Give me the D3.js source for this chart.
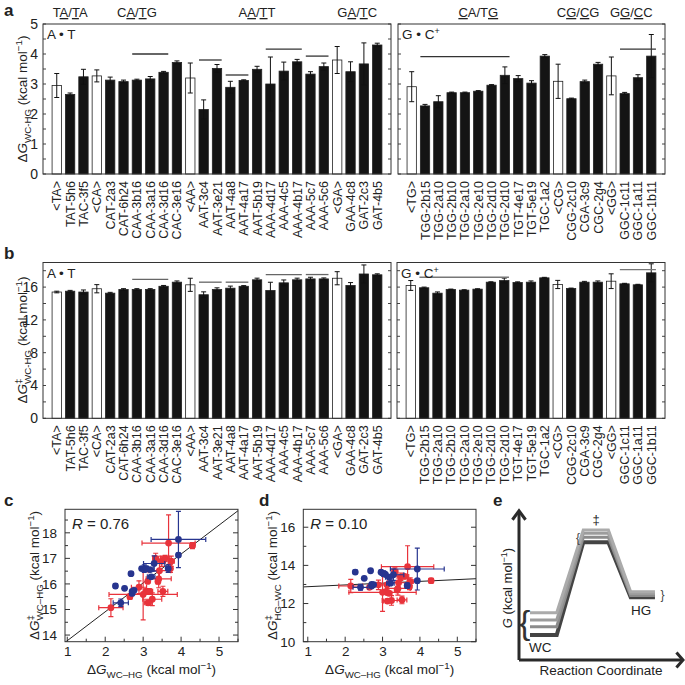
<!DOCTYPE html>
<html>
<head>
<meta charset="utf-8">
<script src="https://cdn.jsdelivr.net/npm/d3@7"></script>
<style>
body { margin: 0; background: #fff; }
text { font-family: "Liberation Sans", Arial, sans-serif; fill: #222; }
</style>
</head>
<body>
<div id="chart"></div>
<script>
// ---- data ----
var labelsAT = ["<TA>","TAT-5h6","TAC-3f5","<CA>","CAT-2a3","CAT-6h24","CAA-3b16","CAA-3a16","CAA-3d16","CAC-3e16",
    "<AA>","AAT-3c4","AAT-3e21","AAT-4a8","AAT-4a17","AAT-5b19","AAA-4d17","AAA-4c5","AAA-4b17","AAA-5c7","AAA-5c6",
    "<GA>","GAA-4c8","GAT-2c3","GAT-4b5"];
var labelsGC = ["<TG>","TGG-2b15","TGG-2a10","TGG-2b10","TGG-2a10","TGG-2e10","TGG-2d10","TGG-2d10","TGT-4e17","TGT-5e19",
    "TGC-1a2","<CG>","CGG-2c10","CGA-3c9","CGC-2g4","<GG>","GGC-1c11","GGC-1a11","GGC-1b11"];

// dG WC-HG (panel a)
var dgAT    = [2.95,2.65,3.24,3.27,3.13,3.08,3.13,3.17,3.39,3.72,3.2,2.15,3.52,2.89,3.12,3.49,3.0,3.43,3.74,3.33,3.58,3.8,3.41,3.67,4.3];
var dgErrAT = [0.4,0.05,0.25,0.2,0.1,0.05,0.03,0.08,0.03,0.05,0.5,0.32,0.13,0.2,0.02,0.1,0.9,0.3,0.08,0.08,0.12,0.45,0.33,0.7,0.06];
var dgGC    = [2.91,2.27,2.41,2.71,2.71,2.76,2.96,3.29,3.18,3.03,3.93,3.09,2.51,3.08,3.66,3.27,2.68,3.21,3.93];
var dgErrGC = [0.5,0.05,0.2,0.02,0.02,0.02,0.02,0.28,0.1,0.08,0.05,0.57,0.02,0.05,0.06,0.63,0.04,0.1,0.72];

// dG-double-dagger WC-HG (panel b)
var tsAT    = [15.4,15.5,15.4,15.8,15.26,15.71,15.71,15.71,16.1,16.6,16.28,15.07,15.71,15.87,16.1,16.89,15.59,16.52,16.89,17.0,17.0,17.08,16.2,17.6,17.5];
var tsErrAT = [0.1,0.1,0.25,0.5,0.1,0.1,0.1,0.1,0.1,0.15,0.8,0.35,0.2,0.25,0.08,0.2,1.0,0.35,0.2,0.2,0.12,0.8,0.35,1.1,0.12];
var tsGC    = [16.2,15.92,15.26,15.71,15.63,15.75,16.6,16.8,16.56,16.6,17.13,16.32,15.83,16.6,16.6,16.72,16.4,16.28,17.74];
var tsErrGC = [0.6,0.08,0.15,0.05,0.05,0.05,0.05,0.3,0.08,0.15,0.06,0.5,0.05,0.1,0.15,0.9,0.06,0.06,1.1];

// horizontal bracket lines [first bar, last bar, level]
var linesA_AT = [[6,8,4.0],[11,12,3.8],[13,14,3.3],[16,18,4.16],[19,20,3.93]];
var linesA_GC = [[1,7,3.91],[16,18,4.16]];
var linesB_AT = [[6,8,16.93],[11,12,16.6],[13,14,16.6],[16,18,17.53],[19,20,17.53]];
var linesB_GC = [[1,7,17.2],[16,18,18.14]];

// sequence group headers: [first bar, last bar, letters, underlined flags]
var groupsAT = [[0,2,"TA/TA","01010"],[3,9,"CA/TG","01010"],[10,20,"AA/TT","01010"],[21,24,"GA/TC","01010"]];
var groupsGC = [[0,10,"CA/TG","10001"],[11,14,"CG/CG","01010"],[15,18,"GG/CC","01010"]];

// regression lines [intercept, slope] and R
var fitC = [12.65, 1.13], rC = "0.76";
var fitD = [12.79, 0.093], rD = "0.10";

// panel e schematic levels (arbitrary energy units), lowest path first
var wcLevels = [1.67, 2.22, 2.67, 3.15];
var tsLevels = [7.85, 8.18, 8.45, 8.67];
var hgLevels = [4.18, 4.3, 4.43, 4.55];
var pathColors = ["#444", "#8c8c8c", "#9c9c9c", "#ababab"];

var RED = "#e8333b", BLUE = "#27358f";

var svg = d3.select("#chart").append("svg").attr("width", 685).attr("height", 685);
svg.append("rect").attr("width", 685).attr("height", 685).attr("fill", "#fff");

// ΔG label with subscript (and optional double dagger)
function dgLabel(t, fs, ts, sub) {
    var s = fs * 0.72;
    t.append("tspan").text("Δ");
    t.append("tspan").attr("font-style", "italic").text("G");
    if (ts) {
        t.append("tspan").attr("font-size", s).attr("dy", -fs * 0.4).text("‡");
        t.append("tspan").attr("font-size", s).attr("dx", -s * 0.55).attr("dy", fs * 0.7).text(sub);
    } else {
        t.append("tspan").attr("font-size", s).attr("dy", fs * 0.3).text(sub);
    }
    t.append("tspan").attr("dy", -fs * 0.3).text(" (kcal mol");
    t.append("tspan").attr("font-size", s).attr("dy", -fs * 0.4).text("−1");
    t.append("tspan").attr("dy", fs * 0.4).text(")");
}

function barPanel(o) {
    var g = svg.append("g");
    var n = o.vals.length;
    var x = d3.scaleBand().domain(d3.range(n)).range([o.x0, o.x1]).paddingInner(0.3).paddingOuter(0.68);
    var y = d3.scaleLinear().domain(o.yDom).range([o.y1, o.y0]);
    var bw = x.bandwidth();

    // minor inward ticks on both sides
    var tv = d3.range(o.yDom[0], o.yDom[1] + 1e-6, o.minor);
    g.selectAll("line.tl").data(tv).enter().append("line")
        .attr("x1", o.x0).attr("x2", o.x0 + 3).attr("y1", y).attr("y2", y).attr("stroke", "#444");
    g.selectAll("line.tr").data(tv).enter().append("line")
        .attr("x1", o.x1 - 3).attr("x2", o.x1).attr("y1", y).attr("y2", y).attr("stroke", "#444");

    if (o.yLabels) {
        var ya = g.append("g").attr("transform", "translate(" + o.x0 + ",0)")
            .call(d3.axisLeft(y).tickValues(o.yLabels).tickSize(0).tickPadding(5).tickFormat(d3.format("d")));
        ya.select(".domain").remove();
        ya.selectAll("text").attr("font-size", 14).attr("fill", "#222");
    }

    // bars
    g.selectAll("rect.bar").data(o.vals).enter().append("rect")
        .attr("x", function (d, i) { return x(i); })
        .attr("y", function (d) { return y(d); })
        .attr("width", bw)
        .attr("height", function (d) { return o.y1 - y(d); })
        .attr("fill", function (d, i) { return o.labels[i].charAt(0) === "<" ? "#fff" : "#141414"; })
        .attr("stroke", "#222").attr("stroke-width", 0.8);

    // error bars
    var eb = g.selectAll("g.err").data(o.vals).enter().append("g")
        .attr("stroke", "#111").attr("stroke-width", 1);
    eb.append("line")
        .attr("x1", function (d, i) { return x(i) + bw / 2; })
        .attr("x2", function (d, i) { return x(i) + bw / 2; })
        .attr("y1", function (d, i) { return y(d + o.errs[i]); })
        .attr("y2", function (d, i) { return y(d - o.errs[i]); });
    [1, -1].forEach(function (s) {
        eb.append("line")
            .attr("x1", function (d, i) { return x(i) + bw / 2 - 2.5; })
            .attr("x2", function (d, i) { return x(i) + bw / 2 + 2.5; })
            .attr("y1", function (d, i) { return y(d + s * o.errs[i]); })
            .attr("y2", function (d, i) { return y(d + s * o.errs[i]); });
    });

    // bracket lines
    g.selectAll("line.grp").data(o.lines).enter().append("line")
        .attr("x1", function (d) { return x(d[0]); })
        .attr("x2", function (d) { return x(d[1]) + bw; })
        .attr("y1", function (d) { return y(d[2]); })
        .attr("y2", function (d) { return y(d[2]); })
        .attr("stroke", o.lineColor).attr("stroke-width", 1.3);

    // box
    g.append("rect").attr("x", o.x0).attr("y", o.y0).attr("width", o.x1 - o.x0).attr("height", o.y1 - o.y0)
        .attr("fill", "none").attr("stroke", "#333").attr("stroke-width", 1);

    // category labels (rotated)
    var xa = g.append("g").attr("transform", "translate(0," + o.y1 + ")")
        .call(d3.axisBottom(x).tickSize(0).tickFormat(function (i) { return o.labels[i]; }));
    xa.select(".domain").remove();
    xa.selectAll("text")
        .attr("font-size", 12.5).attr("fill", "#222")
        .attr("x", -7).attr("y", 0).attr("dy", "0.36em")
        .attr("transform", "rotate(-90)")
        .style("text-anchor", "end");

    // pair label
    var pt = g.append("text").attr("x", o.x0 + 4).attr("y", o.y0 + 15).attr("font-size", 13.5);
    pt.append("tspan").text(o.pair);
    if (o.plus) pt.append("tspan").attr("font-size", 9).attr("dy", -5).text("+");

    // sequence headers
    if (o.groups) {
        o.groups.forEach(function (gr) {
            var cx = (x(gr[0]) + x(gr[1]) + bw) / 2;
            var t = g.append("text").attr("x", cx).attr("y", 17).attr("text-anchor", "middle").attr("font-size", 13);
            gr[2].split("").forEach(function (ch, k) {
                var ts = t.append("tspan").text(ch);
                if (gr[3].charAt(k) === "1") ts.attr("text-decoration", "underline");
            });
        });
    }
    return g;
}

barPanel({ x0: 43, x1: 391, y0: 24, y1: 174, yDom: [0, 5], minor: 0.5, yLabels: [0, 1, 2, 3, 4, 5],
    vals: dgAT, errs: dgErrAT, labels: labelsAT, lines: linesA_AT, lineColor: "#333", pair: "A • T", groups: groupsAT });
barPanel({ x0: 398, x1: 665, y0: 24, y1: 174, yDom: [0, 5], minor: 0.5,
    vals: dgGC, errs: dgErrGC, labels: labelsGC, lines: linesA_GC, lineColor: "#333", pair: "G • C", plus: true, groups: groupsGC });
barPanel({ x0: 43, x1: 391, y0: 262.5, y1: 418.3, yDom: [0, 19], minor: 2, yLabels: [0, 4, 8, 12, 16],
    vals: tsAT, errs: tsErrAT, labels: labelsAT, lines: linesB_AT, lineColor: "#666", pair: "A • T" });
barPanel({ x0: 397, x1: 665, y0: 262.5, y1: 418.3, yDom: [0, 19], minor: 2,
    vals: tsGC, errs: tsErrGC, labels: labelsGC, lines: linesB_GC, lineColor: "#777", pair: "G • C", plus: true });

// y axis titles for a and b
dgLabel(svg.append("text").attr("transform", "translate(27,99) rotate(-90)").attr("text-anchor", "middle").attr("font-size", 13.5),
    13.5, false, "WC-HG");
dgLabel(svg.append("text").attr("transform", "translate(27,340) rotate(-90)").attr("text-anchor", "middle").attr("font-size", 13.5),
    13.5, true, "WC-HG");

// ---- scatter panels ----
function pointsFrom(labels, xs, xe, ys, ye, yMinusX) {
    var out = [];
    labels.forEach(function (l, i) {
        if (l.charAt(0) === "<") return;
        out.push({ x: xs[i], xe: xe[i], y: yMinusX ? ys[i] - xs[i] : ys[i], ye: ye[i] });
    });
    return out;
}

function scatterPanel(o) {
    var g = svg.append("g");
    var x = d3.scaleLinear().domain(o.xDom).range([o.x0, o.x1]);
    var y = d3.scaleLinear().domain(o.yDom).range([o.y1, o.y0]);
    var id = "clip" + Math.round(o.x0);
    svg.append("clipPath").attr("id", id).append("rect")
        .attr("x", o.x0).attr("y", o.y0).attr("width", o.x1 - o.x0).attr("height", o.y1 - o.y0);

    // ticks
    var xt = d3.range(Math.ceil(o.xDom[0] * 2) / 2, o.xDom[1] + 1e-6, 0.5);
    g.selectAll("line.xt").data(xt).enter().append("line")
        .attr("x1", x).attr("x2", x).attr("y1", o.y1)
        .attr("y2", function (d) { return o.y1 - (d % 1 === 0 ? 5 : 3); }).attr("stroke", "#333");
    var yt = d3.range(Math.ceil(o.yDom[0] / o.yMinor) * o.yMinor, o.yDom[1] + 1e-6, o.yMinor);
    [[o.x0, 1], [o.x1, -1]].forEach(function (side) {
        g.selectAll(null).data(yt).enter().append("line")
            .attr("y1", y).attr("y2", y).attr("x1", side[0])
            .attr("x2", function (d) { return side[0] + side[1] * (o.yMajor.indexOf(Math.round(d * 100) / 100) >= 0 ? 5 : 3); })
            .attr("stroke", "#333");
    });

    var xa = g.append("g").attr("transform", "translate(0," + o.y1 + ")")
        .call(d3.axisBottom(x).tickValues([1, 2, 3, 4, 5]).tickSize(0).tickPadding(5).tickFormat(d3.format("d")));
    xa.select(".domain").remove();
    xa.selectAll("text").attr("font-size", 13.5).attr("fill", "#222");
    var ya = g.append("g").attr("transform", "translate(" + o.x0 + ",0)")
        .call(d3.axisLeft(y).tickValues(o.yMajor).tickSize(0).tickPadding(8).tickFormat(d3.format("d")));
    ya.select(".domain").remove();
    ya.selectAll("text").attr("font-size", 13.5).attr("fill", "#222");

    // fit line
    var line = d3.line().x(function (d) { return x(d); }).y(function (d) { return y(o.fit[0] + o.fit[1] * d); });
    g.append("path").attr("d", line(o.xDom)).attr("clip-path", "url(#" + id + ")")
        .attr("fill", "none").attr("stroke", "#222").attr("stroke-width", 1);

    // points with error bars
    o.series.forEach(function (s) {
        var pg = g.append("g").attr("clip-path", "url(#" + id + ")");
        var p = pg.selectAll("g").data(s.pts).enter().append("g").attr("stroke", s.color).attr("stroke-width", 1.2);
        p.append("line").attr("x1", function (d) { return x(d.x - d.xe); }).attr("x2", function (d) { return x(d.x + d.xe); })
            .attr("y1", function (d) { return y(d.y); }).attr("y2", function (d) { return y(d.y); });
        p.append("line").attr("y1", function (d) { return y(d.y - d.ye); }).attr("y2", function (d) { return y(d.y + d.ye); })
            .attr("x1", function (d) { return x(d.x); }).attr("x2", function (d) { return x(d.x); });
        [-1, 1].forEach(function (k) {
            p.append("line").attr("x1", function (d) { return x(d.x + k * d.xe); }).attr("x2", function (d) { return x(d.x + k * d.xe); })
                .attr("y1", function (d) { return y(d.y) - 2.5; }).attr("y2", function (d) { return y(d.y) + 2.5; });
            p.append("line").attr("y1", function (d) { return y(d.y + k * d.ye); }).attr("y2", function (d) { return y(d.y + k * d.ye); })
                .attr("x1", function (d) { return x(d.x) - 2.5; }).attr("x2", function (d) { return x(d.x) + 2.5; });
        });
        p.append("circle").attr("cx", function (d) { return x(d.x); }).attr("cy", function (d) { return y(d.y); })
            .attr("r", 3.4).attr("fill", s.color).attr("stroke", "none");
    });

    g.append("rect").attr("x", o.x0).attr("y", o.y0).attr("width", o.x1 - o.x0).attr("height", o.y1 - o.y0)
        .attr("fill", "none").attr("stroke", "#333").attr("stroke-width", 1);

    var rt = g.append("text").attr("x", o.x0 + 7).attr("y", o.y0 + 20).attr("font-size", 15);
    rt.append("tspan").attr("font-style", "italic").text("R");
    rt.append("tspan").text(" = " + o.r);

    dgLabel(g.append("text").attr("x", (o.x0 + o.x1) / 2).attr("y", 674).attr("text-anchor", "middle").attr("font-size", 13.5),
        13.5, false, "WC–HG");
    dgLabel(g.append("text").attr("transform", "translate(" + (o.x0 - 26) + "," + ((o.y0 + o.y1) / 2) + ") rotate(-90)")
        .attr("text-anchor", "middle").attr("font-size", 13.5), 13.5, true, o.yName);
}

scatterPanel({ x0: 65, x1: 238, y0: 509.3, y1: 641.7, xDom: [0.94, 5.5], yDom: [13.74, 18.92],
    yMajor: [14, 15, 16, 17, 18], yMinor: 0.5, fit: fitC, r: rC, yName: "WC–HG",
    series: [{ color: RED, pts: pointsFrom(labelsAT, dgAT, dgErrAT, tsAT, tsErrAT, false) },
             { color: BLUE, pts: pointsFrom(labelsGC, dgGC, dgErrGC, tsGC, tsErrGC, false) }] });
scatterPanel({ x0: 303.3, x1: 476, y0: 509.3, y1: 641.7, xDom: [0.88, 5.5], yDom: [10, 16.94],
    yMajor: [10, 12, 14, 16], yMinor: 1, fit: fitD, r: rD, yName: "HG–WC",
    series: [{ color: RED, pts: pointsFrom(labelsAT, dgAT, dgErrAT, tsAT, tsErrAT, true) },
             { color: BLUE, pts: pointsFrom(labelsGC, dgGC, dgErrGC, tsGC, tsErrGC, true) }] });

// ---- panel e: schematic ----
(function () {
    var g = svg.append("g");
    var xe = d3.scaleLinear().domain([0, 10]).range([519, 683]);
    var ye = d3.scaleLinear().domain([0, 10]).range([660, 510]);
    var wcX = [0.67, 2.3], tsX = [3.92, 5.45], hgX = [6.81, 8.29];
    var line = d3.line().x(function (d) { return xe(d[0]); }).y(function (d) { return ye(d[1]); });

    wcLevels.forEach(function (w, i) {
        var pts = [[wcX[0], w], [wcX[1], w], [tsX[0], tsLevels[i]], [tsX[1], tsLevels[i]], [hgX[0], hgLevels[i]], [hgX[1], hgLevels[i]]];
        g.append("path").attr("d", line(pts)).attr("fill", "none")
            .attr("stroke", pathColors[i]).attr("stroke-width", i === 0 ? 4 : 3).attr("stroke-linejoin", "miter");
    });

    // axes with arrowheads
    var ax = "#2a2a2a";
    g.append("path").attr("d", line([[0, 0], [0, 9.9]])).attr("stroke", ax).attr("stroke-width", 3).attr("fill", "none");
    g.append("path").attr("d", line([[0, 0], [9.95, 0]])).attr("stroke", ax).attr("stroke-width", 3).attr("fill", "none");
    g.append("path").attr("d", line([[-0.4, 9.35], [0, 9.95], [0.4, 9.35]])).attr("stroke", ax).attr("stroke-width", 3).attr("fill", "none");
    g.append("path").attr("d", line([[9.6, 0.5], [10, 0], [9.6, -0.5]])).attr("stroke", ax).attr("stroke-width", 3).attr("fill", "none");

    g.append("text").attr("x", xe(0.35)).attr("y", ye(2.45)).attr("font-size", 34).attr("font-family", "DejaVu Sans")
        .attr("text-anchor", "middle").attr("dy", "0.33em").style("fill", "#333").text("{");
    g.append("text").attr("x", xe(3.6)).attr("y", ye(7.85)).attr("font-size", 12).attr("text-anchor", "middle").style("fill", "#444").text("{");
    g.append("text").attr("x", xe(8.75)).attr("y", ye(4.1)).attr("font-size", 12).attr("text-anchor", "middle").style("fill", "#444").text("}");
    g.append("text").attr("x", xe(4.7)).attr("y", ye(9.05)).attr("font-size", 13).attr("text-anchor", "middle")
        .attr("font-family", "DejaVu Sans").style("fill", "#222").text("‡");
    g.append("text").attr("x", xe(1.3)).attr("y", ye(0.55)).attr("font-size", 13.5).attr("text-anchor", "middle").text("WC");
    g.append("text").attr("x", xe(7.45)).attr("y", ye(3.0)).attr("font-size", 13.5).attr("text-anchor", "middle").text("HG");
    g.append("text").attr("x", xe(5)).attr("y", 675).attr("font-size", 13.5).attr("text-anchor", "middle").text("Reaction Coordinate");
    var gl = g.append("text").attr("transform", "translate(512,588) rotate(-90)").attr("text-anchor", "middle").attr("font-size", 13);
    gl.append("tspan").attr("font-style", "italic").text("G");
    gl.append("tspan").text(" (kcal mol");
    gl.append("tspan").attr("font-size", 9).attr("dy", -5).text("−1");
    gl.append("tspan").attr("dy", 5).text(")");
})();

// panel letters
[["a", 4, 16], ["b", 4, 259], ["c", 4, 506], ["d", 259, 506], ["e", 493, 506]].forEach(function (p) {
    svg.append("text").attr("x", p[1]).attr("y", p[2]).attr("font-size", 17).attr("font-weight", "bold").text(p[0]);
});
</script>
</body>
</html>
